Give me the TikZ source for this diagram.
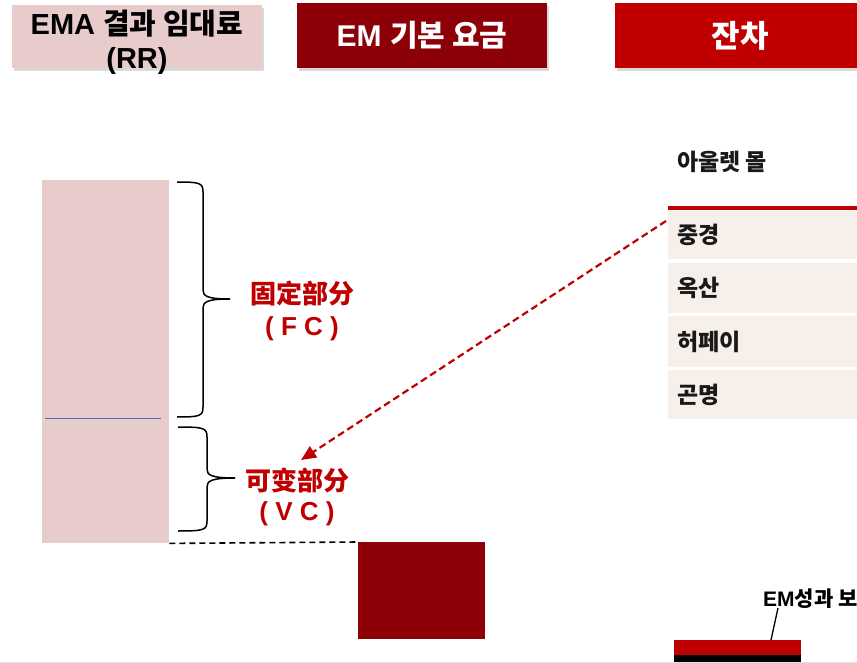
\documentclass[tikz,border=0pt]{standalone}
\usepackage{fontspec}
\setmainfont{Liberation Sans}
\newfontfamily\krfont{Noto Sans CJK KR}
\newfontfamily\cnfont{Noto Sans CJK SC}
\usetikzlibrary{shadows,arrows.meta,calc}
\definecolor{pinkbox}{RGB}{232,204,204}
\definecolor{darkred}{RGB}{142,0,8}
\definecolor{brightred}{RGB}{192,0,0}
\definecolor{beige}{RGB}{247,240,234}
\definecolor{blueline}{RGB}{68,114,196}
\newcommand\mybrace[6]{%
  \draw[bracestyle] (#1,#4) .. controls (#2-3,#4) and (#2,#4+1) .. (#2,#4+10) -- (#2,#5-9) .. controls (#2,#5-3) and (#2+4,#5) .. (#3,#5);
  \draw[bracestyle] (#3,#5) .. controls (#2+4,#5) and (#2,#5+3) .. (#2,#5+9) -- (#2,#6-10) .. controls (#2,#6-1) and (#2-3,#6) .. (#1,#6);}
\begin{document}
\begin{tikzpicture}[x=1pt,y=-1pt,
  hdr/.style={minimum width=250pt, inner sep=0pt, drop shadow={shadow xshift=2pt,shadow yshift=-3pt,opacity=0.3}},
  hdrtext/.style={font=\fontsize{29}{34}\selectfont\bfseries, align=center, inner sep=0pt},
  rowbox/.style={fill=beige, anchor=west, inner xsep=9pt, text width=222pt, align=left, font=\fontsize{23}{26}\selectfont\bfseries\krfont, text=black!90},
  redlbl/.style={text=brightred, align=center, inner sep=0pt},
  bracestyle/.style={line width=1.5pt, black},
  plainbox/.style={inner sep=0pt, anchor=north west},
]
\useasboundingbox (0,0) rectangle (857,663);
\clip (0,0) rectangle (857,663);

% headers
\node[hdr, fill=pinkbox, minimum height=63pt] (rrbox) at (137,36.5) {};
\node[hdrtext] (rrtxt) at (137,42) {EMA {\krfont 결과 임대료}\\(RR)};
\node[hdr, fill=darkred, minimum height=65pt, text=white, font=\fontsize{30}{32}\selectfont\bfseries] (embox) at (422,35.5) {EM {\krfont 기본 요금}};
\node[hdr, fill=brightred, minimum height=65pt, text=white, font=\fontsize{31}{32}\selectfont\bfseries\krfont] (jcbox) at (740,35.5) {잔차};

% pink column
\node[plainbox, fill=pinkbox, minimum width=127pt, minimum height=363pt] (col) at (42,180) {};
\draw[blueline, line width=1pt] (45,418) -- (161,418);

% braces
\mybrace{177}{203}{230}{182}{299}{417}
\mybrace{178}{207}{235}{427}{478}{531}

% labels
\node[redlbl, font=\fontsize{26}{32}\selectfont\bfseries] (fc) at (302,311) {{\cnfont 固定部分}\\( F C )};
\node[redlbl, font=\fontsize{26}{30}\selectfont\bfseries] (vc) at (297,497) {{\cnfont 可变部分}\\( V C )};

% square and dashed line
\node[plainbox, fill=darkred, minimum width=127pt, minimum height=97pt] (sq) at (358,542) {};
\draw[black, line width=1.6pt, dash pattern=on 6pt off 4pt] (col.south east) -- (sq.north west);

% table
\node[anchor=west, inner sep=0pt, font=\fontsize{23}{26}\selectfont\bfseries\krfont, text=black!90] (ttl) at (677,162) {아울렛 몰};
\node[plainbox, fill=brightred, minimum width=240pt, minimum height=4pt] (tline) at (668,206) {};
\node[rowbox, minimum height=48pt] (r1) at (668,235) {중경};
\node[rowbox, minimum height=50pt] (r2) at (668,288) {옥산};
\node[rowbox, minimum height=51pt] (r3) at (668,341.5) {허페이};
\node[rowbox, minimum height=49pt] (r4) at (668,394.5) {곤명};

% arrow
\coordinate (arrS) at (666,221);
\coordinate (arrE) at (301,460);
\draw[brightred, line width=2.2pt, dash pattern=on 7pt off 4pt, -{Triangle[length=15pt,width=13pt]}] (arrS) -- (arrE);

% bottom right bars
\node[plainbox, fill=brightred, minimum width=127pt, minimum height=15pt] (rbar) at (674,640) {};
\node[plainbox, fill=black, minimum width=127pt, minimum height=9pt] (bbar) at (674,655) {};
\node[anchor=base west, inner sep=0pt, font=\fontsize{21}{24}\selectfont\bfseries] (emlbl) at (763,606) {EM{\krfont 성과 보}};
\draw[line width=1.3pt] ($(rbar.north west)+(97,0)$) -- ($(emlbl.base west)+(15,2)$);

\draw[black!12, line width=1pt] (0,662.5) -- (857,662.5);
\end{tikzpicture}
\end{document}
